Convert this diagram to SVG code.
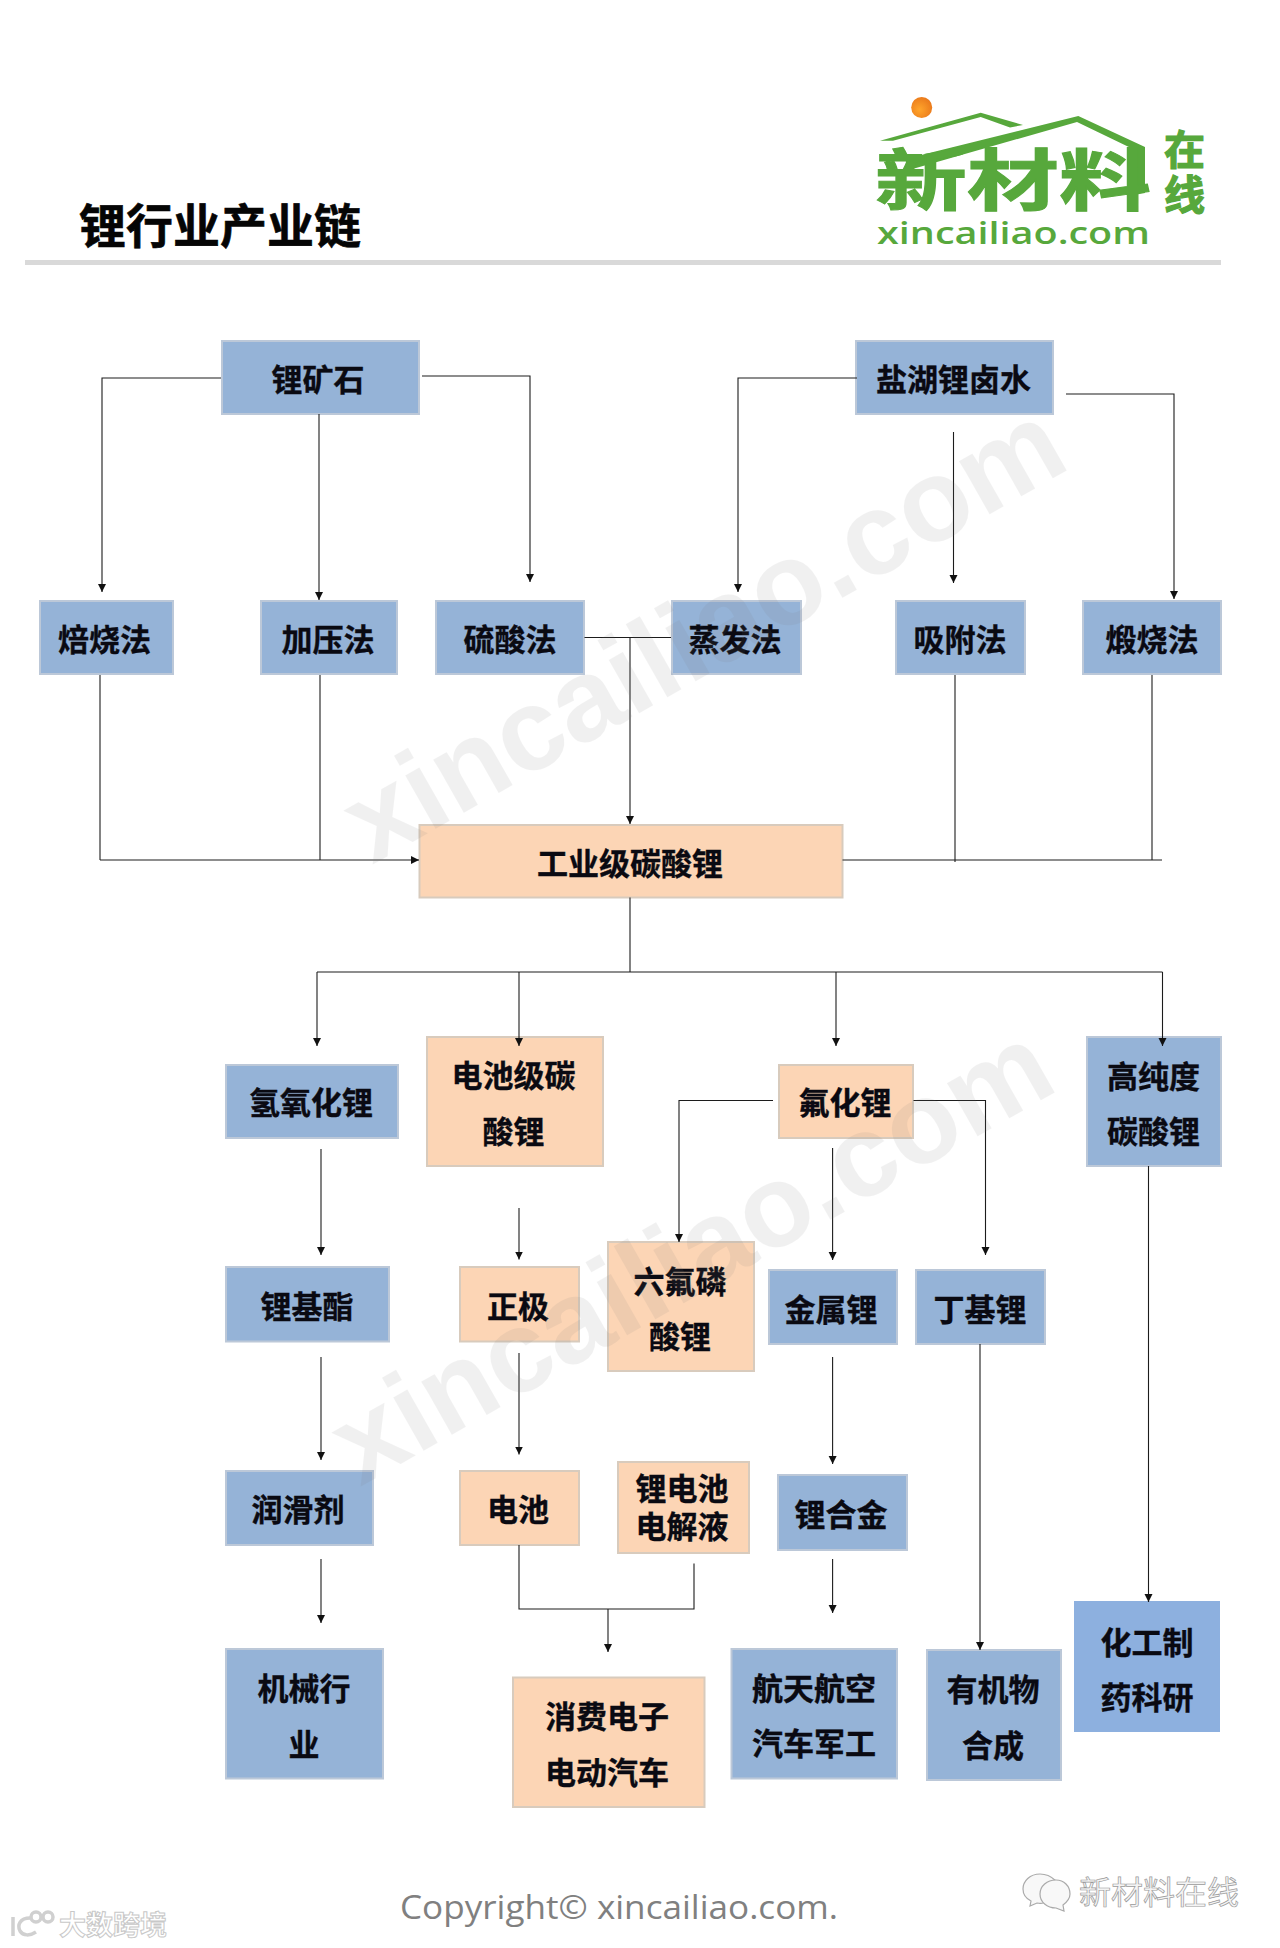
<svg xmlns="http://www.w3.org/2000/svg" width="1280" height="1948" viewBox="0 0 1280 1948">
<style>
text{font-family:"Noto Sans CJK SC","Noto Sans",sans-serif}
.b rect{fill:#95b3d7;stroke:#bcc8d8;stroke-width:2}
.p rect{fill:#fcd5b5;stroke:#d8cbbd;stroke-width:2}
.b text,.p text{font-size:31px;font-weight:700;fill:#0a0a12;text-anchor:middle;stroke:#0a0a12;stroke-width:.35}
.c path{fill:none;stroke:#1c1c1c;stroke-width:1.1}
.a{marker-end:url(#arr)}
.wm{font-family:"Liberation Sans",Arial,sans-serif;font-size:116px;font-weight:700;fill:#7a7a7a;opacity:.1}
.g{fill:#57a83c}
.gs{stroke:#57a83c;stroke-width:1.200}
.ghost{fill:#f4f4f4;stroke:#9a9a9a;stroke-width:.7;font-size:32px}
</style>
<defs>
<marker id="arr" markerUnits="userSpaceOnUse" markerWidth="8" markerHeight="10" refX="8" refY="4" orient="auto"><path d="M0 0L8 4L0 8Z" fill="#111"/></marker>
<radialGradient id="sun" cx=".4" cy=".6" r=".7"><stop offset="0" stop-color="#ffa52b"/><stop offset="1" stop-color="#e8751a"/></radialGradient>
</defs>
<rect width="1280" height="1948" fill="#fff"/>

<g id="header">
<text x="79" y="243" font-size="47" font-weight="700" fill="#050505" stroke="#050505" stroke-width=".6">锂行业产业链</text>
<rect x="25" y="260" width="1196" height="5" fill="#d9d9d9"/>
</g>
<g id="logo">
<circle cx="921.7" cy="107.5" r="10.5" fill="url(#sun)"/>
<path class="g" d="M880 140.7L980.7 112.7L1023 125L1010 127.5L980.7 117L893 140.7Z"/>
<path class="g" d="M905 159L1078.3 116L1145 147V193L1134 195L1133 149L1077 122L909 170Z"/>
<text class="g gs" transform="translate(875 205) scale(1.15 .84)" font-size="80" font-weight="700">新材料</text>
<text class="g gs" x="1164" y="165" font-size="41" font-weight="700">在</text>
<text class="g gs" x="1164" y="210" font-size="41" font-weight="700">线</text>
<text class="g" x="877" y="244" font-size="31" font-weight="600" textLength="273" lengthAdjust="spacingAndGlyphs" style="font-family:'Open Sans',sans-serif">xincailiao.com</text>
</g>

<g id="n-ore" class="b"><rect x="222" y="341" width="197" height="73"/><text x="318" y="391">锂矿石</text></g>
<g id="n-brine" class="b"><rect x="856" y="341" width="197" height="73"/><text x="953.500" y="391">盐湖锂卤水</text></g>
<g id="n-roast" class="b"><rect x="40" y="601" width="133" height="73"/><text x="104.500" y="651">焙烧法</text></g>
<g id="n-press" class="b"><rect x="261" y="601" width="136" height="73"/><text x="328" y="651">加压法</text></g>
<g id="n-acid" class="b"><rect x="436" y="601" width="148" height="73"/><text x="510" y="651">硫酸法</text></g>
<g id="n-evap" class="b"><rect x="672" y="601" width="129" height="73"/><text x="735" y="651">蒸发法</text></g>
<g id="n-adsorb" class="b"><rect x="896" y="601" width="129" height="73"/><text x="960" y="651">吸附法</text></g>
<g id="n-calcine" class="b"><rect x="1083" y="601" width="138" height="73"/><text x="1152" y="651">煅烧法</text></g>
<g id="n-industrial" class="p"><rect x="419.500" y="825" width="423" height="72.500"/><text x="630" y="875">工业级碳酸锂</text></g>
<g id="n-lioh" class="b"><rect x="226" y="1065" width="172" height="73"/><text x="311" y="1114">氢氧化锂</text></g>
<g id="n-batteryc" class="p"><rect x="427" y="1037" width="176" height="129"/><text x="513.500" y="1087">电池级碳</text><text x="513.500" y="1143">酸锂</text></g>
<g id="n-lif" class="p"><rect x="779" y="1065" width="134" height="73"/><text x="845" y="1114">氟化锂</text></g>
<g id="n-highpure" class="b"><rect x="1087" y="1037" width="134" height="129"/><text x="1153.500" y="1087.500">高纯度</text><text x="1153.500" y="1143">碳酸锂</text></g>
<g id="n-grease" class="b"><rect x="226" y="1267" width="163" height="74.500"/><text x="307" y="1318">锂基酯</text></g>
<g id="n-cathode" class="p"><rect x="460" y="1267" width="119" height="74.500"/><text x="518" y="1318">正极</text></g>
<g id="n-lipf6" class="p"><rect x="608" y="1242" width="146" height="129"/><text x="680" y="1293">六氟磷</text><text x="680" y="1348">酸锂</text></g>
<g id="n-metal" class="b"><rect x="769" y="1270" width="128" height="74"/><text x="831" y="1321">金属锂</text></g>
<g id="n-butyl" class="b"><rect x="916" y="1270" width="129" height="74"/><text x="980" y="1321">丁基锂</text></g>
<g id="n-lube" class="b"><rect x="226" y="1471" width="147" height="74"/><text x="298" y="1521">润滑剂</text></g>
<g id="n-battery" class="p"><rect x="460" y="1471" width="119" height="74"/><text x="518" y="1521">电池</text></g>
<g id="n-electrolyte" class="p"><rect x="618" y="1462" width="131" height="91"/><text x="682" y="1500">锂电池</text><text x="682" y="1538">电解液</text></g>
<g id="n-alloy" class="b"><rect x="778" y="1475" width="129" height="75"/><text x="841" y="1526">锂合金</text></g>
<g id="n-machine" class="b"><rect x="226" y="1649" width="157" height="129.500"/><text x="304" y="1699.500">机械行</text><text x="304" y="1755.500">业</text></g>
<g id="n-consumer" class="p"><rect x="513" y="1677.500" width="191.500" height="129.500"/><text x="607" y="1728">消费电子</text><text x="607" y="1784">电动汽车</text></g>
<g id="n-aero" class="b"><rect x="731.500" y="1649" width="165.500" height="129.500"/><text x="814" y="1699.500">航天航空</text><text x="814" y="1755">汽车军工</text></g>
<g id="n-organic" class="b"><rect x="927" y="1650" width="134" height="130"/><text x="993" y="1701">有机物</text><text x="993" y="1757">合成</text></g>
<g id="n-pharma" class="b"><rect x="1075" y="1602" width="144" height="129" style="fill:#8db0df;stroke:#8db0df"/><text x="1147" y="1653.500">化工制</text><text x="1147" y="1709">药科研</text></g>

<g id="connectors" class="c">
<path class="a" d="M221 378H102V592"/>
<path class="a" d="M319 414V600"/>
<path class="a" d="M422 376H530V582"/>
<path class="a" d="M857 378H738V592"/>
<path class="a" d="M953.500 432V583"/>
<path class="a" d="M1066 394H1174V599"/>
<path d="M584.500 637.500H671"/>
<path class="a" d="M630 637.500V824"/>
<path d="M100 675V860"/>
<path d="M320 675V860"/>
<path class="a" d="M100 860H419"/>
<path d="M955 675V862"/>
<path d="M1152 675V860"/>
<path d="M842.500 860H1162"/>
<path d="M630 897.600V972"/>
<path d="M317 972H1162.500"/>
<path class="a" d="M317 972V1046"/>
<path class="a" d="M519 972V1046"/>
<path class="a" d="M836 972V1046"/>
<path class="a" d="M1162.500 972V1046"/>
<path class="a" d="M773 1100.500H679V1242"/>
<path class="a" d="M913.500 1100.500H985.500V1255"/>
<path class="a" d="M832.600 1148V1260"/>
<path class="a" d="M321 1149V1255"/>
<path class="a" d="M519 1208V1259.500"/>
<path class="a" d="M1148.500 1166V1602"/>
<path class="a" d="M321 1357V1460"/>
<path class="a" d="M519 1353V1454.500"/>
<path class="a" d="M832.600 1357V1464"/>
<path class="a" d="M980 1344V1650"/>
<path class="a" d="M321 1559V1623"/>
<path d="M519 1545V1609H694V1563.500"/>
<path class="a" d="M608 1609V1652"/>
<path class="a" d="M832.600 1559V1613"/>
</g>

<g id="watermark">
<text class="wm" transform="translate(372 865) rotate(-29.600)" textLength="806" lengthAdjust="spacingAndGlyphs">xincailiao.com</text>
<text class="wm" transform="translate(360 1487) rotate(-29.600)" textLength="806" lengthAdjust="spacingAndGlyphs">xincailiao.com</text>
</g>

<g id="footer">
<text x="400" y="1919" font-size="32" fill="#808080" textLength="438" lengthAdjust="spacingAndGlyphs" style="font-family:'Open Sans',sans-serif">Copyright© xincailiao.com.</text>
<g fill="#f8f8f8" stroke="#aaa" stroke-width="1.200">
<path d="M1040 1874c-10 0-17 7-17 15c0 6 4 10 8 12l-1 5l7-3c2 0 4 1 6 0c8-1 15-3 19-9c-1-10-10-20-22-20Z"/>
<path d="M1056 1880c-9 0-16 6-16 14s7 14 16 14l8 3l-1-6c4-3 7-7 7-11c0-8-6-14-14-14Z"/>
</g>
<text class="ghost" x="1079" y="1904">新材料在线</text>
<g fill="none" stroke="#d0d0d0" stroke-width="3.500">
<path d="M13 1917V1936M30 1918C20 1918 17 1925 20 1931C23 1936 30 1936 36 1932"/>
<circle cx="36" cy="1917" r="5"/><circle cx="48" cy="1917" r="5"/>
</g>
<text x="59" y="1935" font-size="27" font-weight="700" fill="#fff" stroke="#c8c8c8" stroke-width="1">大数跨境</text>
</g>
</svg>
